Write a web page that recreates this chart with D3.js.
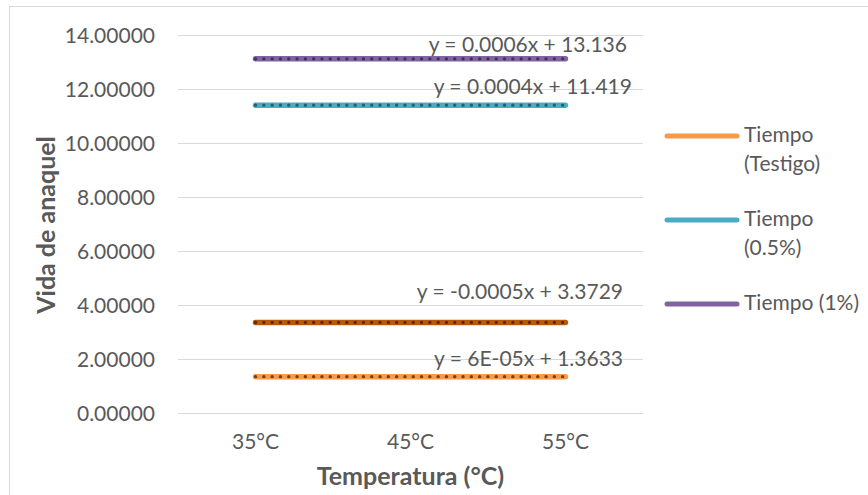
<!DOCTYPE html>
<html>
<head>
<meta charset="utf-8">
<script src="https://cdn.jsdelivr.net/npm/d3@7"></script>
<style>
  body { margin: 0; background: #fff; }
  text { font-family: Lato, "Open Sans", sans-serif; fill: #595959; }
</style>
</head>
<body>
<div id="chart-area"></div>
<script>
// datos
var categorias = ["35°C", "45°C", "55°C"];
var testigo = [1.3634, 1.3634, 1.3635];
var testigoB = [3.3724, 3.3719, 3.3714];
var medio = [11.4194, 11.4198, 11.4202];
var uno = [13.1366, 13.1372, 13.1378];
var pendientes = [0.00006, -0.0005, 0.0004, 0.0006];
var intercepts = [1.3633, 3.3729, 11.419, 13.136];
var ecuaciones = ["y = 6E-05x + 1.3633", "y = -0.0005x + 3.3729", "y = 0.0004x + 11.419", "y = 0.0006x + 13.136"];
var nombres = ["Tiempo (Testigo)", null, "Tiempo (0.5%)", "Tiempo (1%)"];
var yTicks = [0, 2, 4, 6, 8, 10, 12, 14];

var series = [testigo, testigoB, medio, uno];
var colores = ["#F79A4A", "#B85A0D", "#4BACC6", "#8064A2"];
var puntos = ["#7E3F17", "#5E280A", "#275E6D", "#43305C"];

var margin = { left: 178, right: 225, top: 35.5, bottom: 81.5 };
var W = 868, H = 495;
var width = W - margin.left - margin.right,
    height = H - margin.top - margin.bottom;

var svg = d3.select("#chart-area").append("svg")
    .attr("width", W).attr("height", H);

// borde del grafico
svg.append("rect")
    .attr("x", 9.5).attr("y", 6.5)
    .attr("width", 870).attr("height", 500)
    .attr("fill", "none").attr("stroke", "#d9d9d9");

var g = svg.append("g")
    .attr("transform", "translate(" + margin.left + "," + margin.top + ")");

var x = d3.scaleBand().domain(categorias).range([0, width]);
var y = d3.scaleLinear().domain([0, 14]).range([height, 0]);

// grid
g.selectAll(".grid").data(yTicks).enter().append("line")
    .attr("x1", 0).attr("x2", width)
    .attr("y1", function(d){ return y(d); })
    .attr("y2", function(d){ return y(d); })
    .attr("stroke", "#d9d9d9").attr("stroke-width", 1);

// eje y
var yAxis = g.append("g")
    .call(d3.axisLeft(y).tickValues(yTicks).tickSize(0).tickPadding(23)
        .tickFormat(function(d){ return d3.format(".5f")(d); }));
yAxis.select(".domain").remove();
yAxis.selectAll("text").attr("font-size", "21px").style("fill", "#595959")
    .style("font-family", "Lato, sans-serif");

// eje x
var xAxis = g.append("g")
    .attr("transform", "translate(0," + height + ")")
    .call(d3.axisBottom(x).tickSize(0).tickPadding(21));
xAxis.select(".domain").remove();
xAxis.selectAll("text").attr("font-size", "21px").style("fill", "#595959")
    .style("font-family", "Lato, sans-serif");

// titulos
g.append("text")
    .attr("x", width / 2).attr("y", height + 71)
    .attr("text-anchor", "middle").attr("font-size", "25px").attr("font-weight", "bold")
    .text("Temperatura (°C)");

g.append("text")
    .attr("transform", "rotate(-90)")
    .attr("x", -189.5).attr("y", -123)
    .attr("text-anchor", "middle").attr("font-size", "25px").attr("font-weight", "bold")
    .text("Vida de anaquel");

// lineas
var linea = d3.line()
    .x(function(d, i){ return x(categorias[i]) + x.bandwidth() / 2; })
    .y(function(d){ return y(d); });

series.forEach(function(s, k){
    g.append("path").datum(s)
        .attr("d", linea)
        .attr("fill", "none")
        .attr("stroke", colores[k])
        .attr("stroke-width", 5.5)
        .attr("stroke-linecap", "round");
});

// tendencias
series.forEach(function(s, k){
    var tr = s.map(function(d, i){ return pendientes[k] * (i + 1) + intercepts[k]; });
    g.append("path").datum(tr)
        .attr("d", linea)
        .attr("fill", "none")
        .attr("stroke", puntos[k])
        .attr("stroke-width", 3.3)
        .attr("stroke-linecap", "round")
        .attr("stroke-dasharray", "0.1 8.2");
});

// etiquetas de ecuaciones
var eqOffset = [-11, -23, -11, -7];
var eqRight = [445, 445, 454, 449];
ecuaciones.forEach(function(e, k){
    g.append("text")
        .attr("x", eqRight[k])
        .attr("y", y(intercepts[k]) + eqOffset[k])
        .attr("text-anchor", "end")
        .attr("font-size", "21px")
        .text(e);
});

// leyenda
var leyenda = [0, 2, 3];
var legY = [136, 220, 304];
var lg = svg.append("g");
leyenda.forEach(function(k, j){
    lg.append("line")
        .attr("x1", 667).attr("x2", 737)
        .attr("y1", legY[j]).attr("y2", legY[j])
        .attr("stroke", colores[k]).attr("stroke-width", 5)
        .attr("stroke-linecap", "round");
    var t = lg.append("text")
        .attr("x", 744).attr("y", legY[j] + 6)
        .attr("font-size", "21px");
    var nombre = nombres[k];
    if (k === 3) {
        t.text(nombre);
    } else {
        var partes = nombre.split(" ");
        t.append("tspan").attr("x", 744).text(partes[0]);
        t.append("tspan").attr("x", 744).attr("dy", 29).text(partes[1]);
    }
});
</script>
</body>
</html>
